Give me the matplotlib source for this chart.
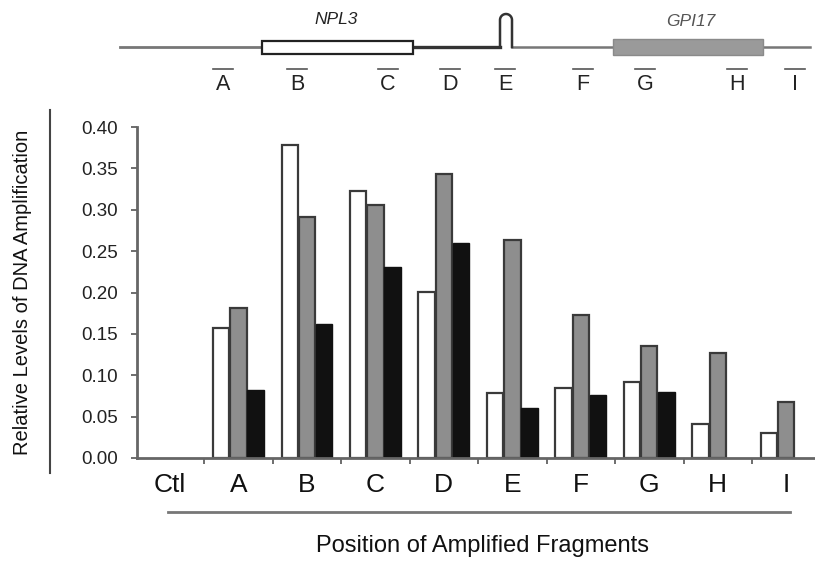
import numpy as np
import matplotlib
matplotlib.use('Agg')
import matplotlib.pyplot as plt
from matplotlib.lines import Line2D
from matplotlib.patches import Rectangle

plt.rcParams['font.family'] = ['Liberation Sans', 'DejaVu Sans']

# fragments along the x axis
categories = ['Ctl', 'A', 'B', 'C', 'D', 'E', 'F', 'G', 'H', 'I']
white_vals = [0, 0.157, 0.378, 0.323, 0.201, 0.078, 0.085, 0.092, 0.041, 0.030]
gray_vals = [0, 0.181, 0.291, 0.306, 0.343, 0.263, 0.173, 0.135, 0.127, 0.068]
black_vals = [0, 0.082, 0.162, 0.231, 0.260, 0.060, 0.076, 0.080, 0, 0]
y_ticks = [0.00, 0.05, 0.10, 0.15, 0.20, 0.25, 0.30, 0.35, 0.40]

# gene map letters
map_letters = ['A', 'B', 'C', 'D', 'E', 'F', 'G', 'H', 'I']

W, H = 815, 562
fig = plt.figure(figsize=(W / 100, H / 100), dpi=100)

# main bar chart
ax = fig.add_axes([137 / W, 1 - 458 / H, 1 - 137 / W, (458 - 127) / H])
x = np.arange(len(categories))
bw = 0.24
off = 0.25


def draw_series(vals, shift, **kw):
    # skip empty (zero) bars so no edge line shows on the baseline
    v = np.array(vals)
    keep = v > 0
    ax.bar(x[keep] + shift, v[keep], bw, **kw)


draw_series(white_vals, -off, color='white', edgecolor='#3a3a3a', linewidth=1.6)
draw_series(gray_vals, 0, color='#8e8e8e', edgecolor='#3a3a3a', linewidth=1.6)
draw_series(black_vals, off, color='#111111', edgecolor='#111111', linewidth=1.0)

ax.set_xlim(-0.48, 9.42)
ax.set_ylim(0, 0.40)
ax.set_yticks(y_ticks)
ax.set_yticklabels(['%.2f' % v for v in y_ticks], fontsize=13.5, color='#222222')
ax.set_xticks(x)
ax.set_xticklabels(categories, fontsize=19, color='#111111')
ax.set_xticks(x[:-1] + 0.5, minor=True)
ax.tick_params(axis='x', which='major', length=0, pad=11)
ax.tick_params(axis='x', which='minor', length=4, width=1.2, color='#555555', direction='out')
ax.tick_params(axis='y', length=4, width=1.2, color='#555555', pad=10)
for s in ['top', 'right']:
    ax.spines[s].set_visible(False)
for s in ['left', 'bottom']:
    ax.spines[s].set_color('#666666')
    ax.spines[s].set_linewidth(2)

fig.text(23 / W, 1 - 292 / H, 'Relative Levels of DNA Amplification', rotation=90,
         ha='center', va='center', fontsize=14.5, color='#111111')
fig.add_artist(Line2D([50 / W, 50 / W], [1 - 110 / H, 1 - 473 / H], color='#444444', lw=1.5))

fig.add_artist(Line2D([168 / W, 790 / W], [1 - 512 / H, 1 - 512 / H], color='#777777', lw=2))
fig.text(482 / W, 1 - 546 / H, 'Position of Amplified Fragments', ha='center', va='center',
         fontsize=17, color='#111111')

# gene diagram on top, in pixel units
gx = fig.add_axes([0, 1 - 100 / H, 1, 100 / H])
gx.set_xlim(0, W)
gx.set_ylim(100, 0)
gx.axis('off')
gx.plot([120, 262], [47, 47], color='#777777', lw=2)
gx.plot([413, 500], [47, 47], color='#333333', lw=2.4)
gx.plot([512, 810], [47, 47], color='#777777', lw=1.8)
t = np.linspace(np.pi, 0, 30)
loop_x = np.concatenate([[500], 506 + 6 * np.cos(t), [512]])
loop_y = np.concatenate([[47], 20 - 6 * np.sin(t), [47]])
gx.plot(loop_x, loop_y, color='#333333', lw=1.8)
gx.add_patch(Rectangle((262, 41), 151, 13, facecolor='white', edgecolor='#222222', lw=1.6, zorder=3))
gx.add_patch(Rectangle((613, 39), 150, 16, facecolor='#9a9a9a', edgecolor='#8a8a8a', lw=1, zorder=3))
gx.text(336, 20, 'NPL3', style='italic', ha='center', va='center', fontsize=12.5, color='#222222')
gx.text(691, 21, 'GPI17', style='italic', ha='center', va='center', fontsize=12.5, color='#555555')

letter_x = [223, 297, 388, 450, 505, 583, 645, 737, 795]
for lx, lt in zip(letter_x, map_letters):
    gx.plot([lx - 10, lx + 10], [69, 69], color='#555555', lw=1.2)
    gx.text(lx, 85, lt, ha='center', va='center', fontsize=15.5, color='#222222')

fig.savefig('out.png', dpi=100)
